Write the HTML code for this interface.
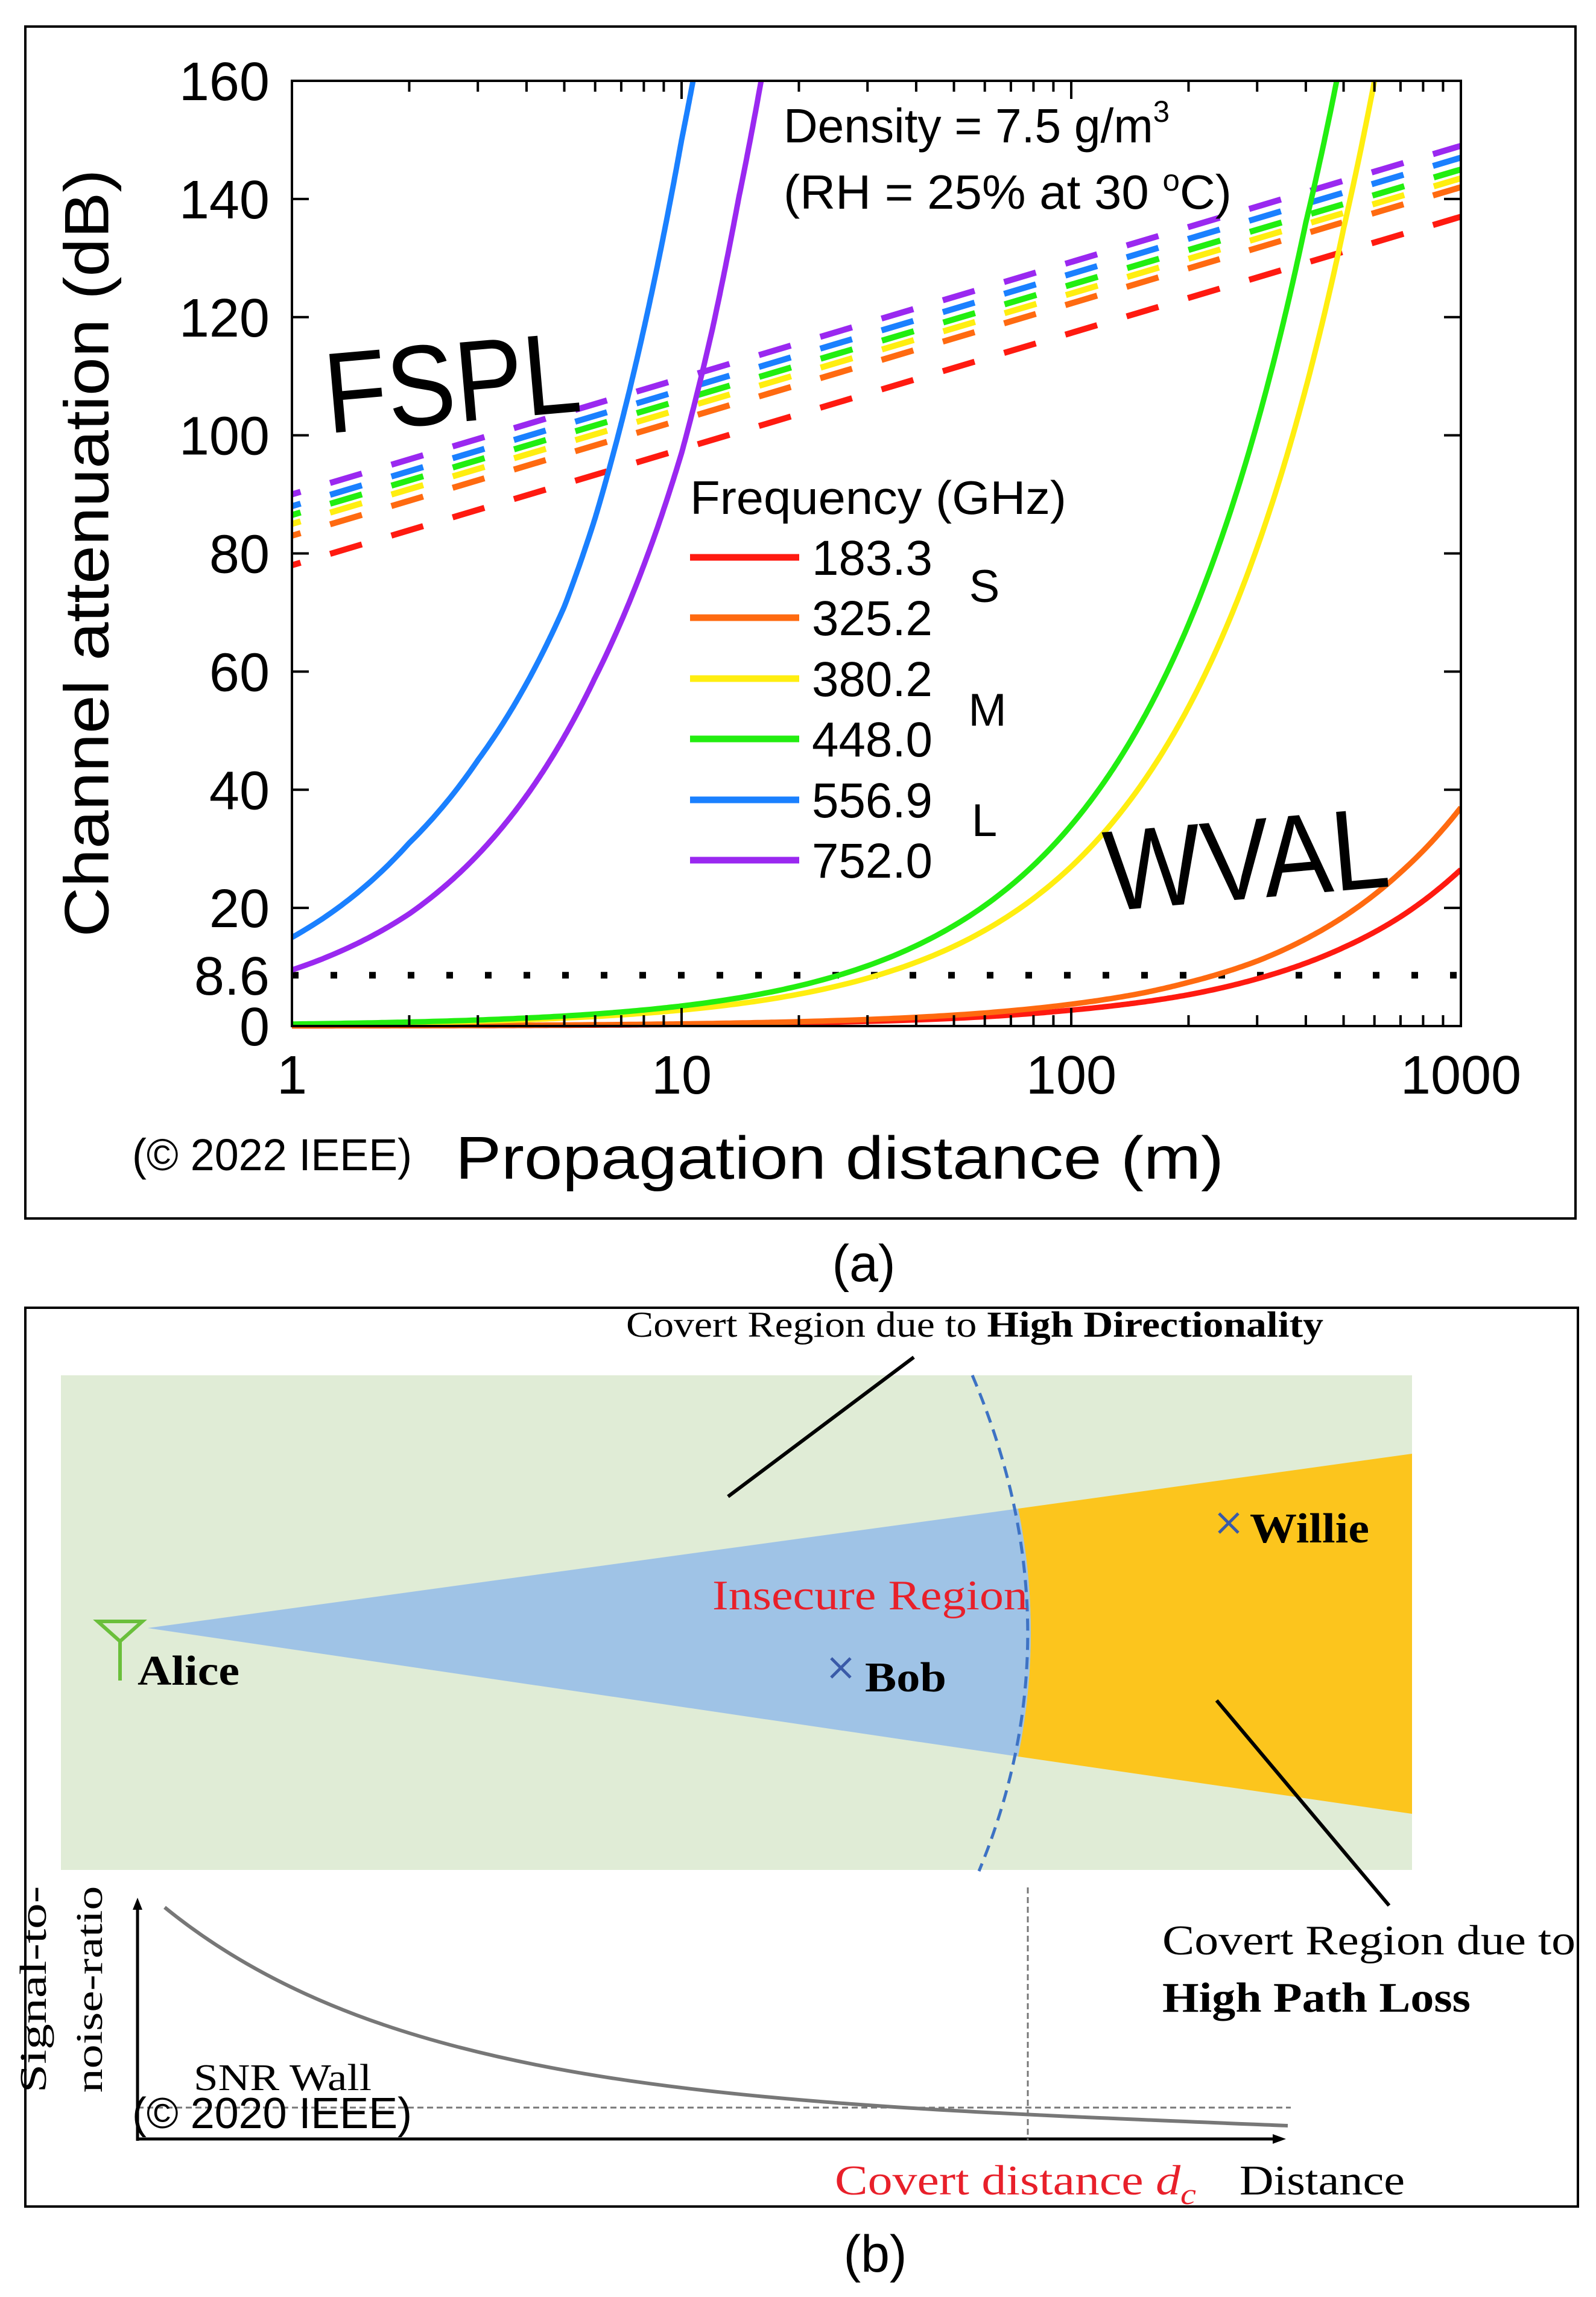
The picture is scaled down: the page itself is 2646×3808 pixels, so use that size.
<!DOCTYPE html>
<html><head><meta charset="utf-8"><style>
html,body{margin:0;padding:0;background:#fff}
svg{display:block}
.sans{font-family:"Liberation Sans",Arial,sans-serif}
.serif{font-family:"Liberation Serif","Times New Roman",serif}
</style></head><body>
<svg id="fig" width="2646" height="3808" viewBox="0 0 2646 3808" xmlns="http://www.w3.org/2000/svg">
<rect x="0" y="0" width="2646" height="3808" fill="#fff"/>
<!-- Panel a -->
<g id="panelA">
<rect x="42" y="44" width="2570" height="1976" fill="none" stroke="#000" stroke-width="4"/>
<g id="plotA"></g>
<text class="sans" x="152" y="917" font-size="104" text-anchor="middle" dominant-baseline="middle" transform="rotate(-90 152 917)" textLength="1273" lengthAdjust="spacingAndGlyphs">Channel attenuation (dB)</text>
<text class="sans" x="1392" y="1954" font-size="100" text-anchor="middle" textLength="1274" lengthAdjust="spacingAndGlyphs">Propagation distance (m)</text>
<text class="sans" x="219" y="1940" font-size="74" textLength="464" lengthAdjust="spacingAndGlyphs">(© 2022 IEEE)</text>
<text class="sans" x="1299" y="236" font-size="80" textLength="640" lengthAdjust="spacingAndGlyphs">Density = 7.5 g/m<tspan font-size="50" dy="-34">3</tspan></text>
<text class="sans" x="1299" y="346" font-size="80" textLength="743" lengthAdjust="spacingAndGlyphs">(RH = 25% at 30 <tspan font-size="50" dy="-30">o</tspan><tspan dy="30">C)</tspan></text>
<text class="sans" x="750" y="700" font-size="190" text-anchor="middle" transform="rotate(-5 750 640)" textLength="425" lengthAdjust="spacingAndGlyphs">FSPL</text>
<text class="sans" x="2067" y="1490" font-size="190" text-anchor="middle" transform="rotate(-5 2067 1430)" textLength="472" lengthAdjust="spacingAndGlyphs">WVAL</text>
<text class="sans" x="1144" y="852" font-size="78" textLength="624" lengthAdjust="spacingAndGlyphs">Frequency (GHz)</text>
<g id="legend"></g>
<text class="sans" x="1632" y="998" font-size="76" text-anchor="middle">S</text>
<text class="sans" x="1637" y="1203" font-size="76" text-anchor="middle">M</text>
<text class="sans" x="1632" y="1386" font-size="76" text-anchor="middle">L</text>
<text class="sans" x="1432" y="2124" font-size="86" text-anchor="middle">(a)</text>
</g>

<!-- Panel b -->
<g id="panelB">
<rect x="42" y="2168" width="2574" height="1490" fill="none" stroke="#000" stroke-width="4"/>
<rect x="101" y="2280" width="2240" height="820" fill="#e0ecd6"/>
<path d="M245 2699 L1688 2501 Q1730 2706 1688 2912 Z" fill="#9fc3e6"/>
<path d="M1688 2501 L2341 2410 L2341 3007 L1688 2912 Q1730 2706 1688 2501 Z" fill="#fcc51d"/>
<path d="M1612 2280 Q1790 2699 1623 3102" fill="none" stroke="#3d72c4" stroke-width="5" stroke-dasharray="20 12"/>
<text class="serif" x="1038" y="2216" font-size="60" textLength="1156" lengthAdjust="spacingAndGlyphs">Covert Region due to <tspan font-weight="bold">High Directionality</tspan></text>
<line x1="1515" y1="2250" x2="1207" y2="2481" stroke="#000" stroke-width="6"/>
<text class="serif" x="1181" y="2668" font-size="70" fill="#e8202a" textLength="523" lengthAdjust="spacingAndGlyphs">Insecure Region</text>
<g>
<path d="M162 2688 L236 2688 L199 2721 Z" fill="none" stroke="#6abf3b" stroke-width="6"/>
<line x1="199" y1="2721" x2="199" y2="2786" stroke="#6abf3b" stroke-width="6"/>
</g>
<text class="serif" x="228" y="2793" font-size="70" font-weight="bold" textLength="169" lengthAdjust="spacingAndGlyphs">Alice</text>
<g stroke="#3a5aa8" stroke-width="5">
<line x1="1378" y1="2749" x2="1410" y2="2781"/><line x1="1410" y1="2749" x2="1378" y2="2781"/>
</g>
<text class="serif" x="1434" y="2804" font-size="70" font-weight="bold" textLength="135" lengthAdjust="spacingAndGlyphs">Bob</text>
<g stroke="#3a5aa8" stroke-width="5">
<line x1="2021" y1="2509" x2="2053" y2="2541"/><line x1="2053" y1="2509" x2="2021" y2="2541"/>
</g>
<text class="serif" x="2072" y="2557" font-size="70" font-weight="bold" textLength="198" lengthAdjust="spacingAndGlyphs">Willie</text>
<line x1="2017" y1="2819" x2="2303" y2="3159" stroke="#000" stroke-width="6"/>
<text class="serif" x="1927" y="3240" font-size="70" textLength="685" lengthAdjust="spacingAndGlyphs">Covert Region due to</text>
<text class="serif" x="1927" y="3335" font-size="70" font-weight="bold" textLength="511" lengthAdjust="spacingAndGlyphs">High Path Loss</text>
<!-- SNR plot -->
<line x1="228" y1="3549" x2="228" y2="3160" stroke="#000" stroke-width="5"/>
<path d="M220 3166 L228 3146 L236 3166 Z" fill="#000"/>
<line x1="226" y1="3546" x2="2115" y2="3546" stroke="#000" stroke-width="5"/>
<path d="M2110 3538 L2132 3546 L2110 3554 Z" fill="#000"/>
<line x1="228" y1="3494" x2="2140" y2="3494" stroke="#777" stroke-width="3" stroke-dasharray="10 6"/>
<line x1="1704" y1="3129" x2="1704" y2="3549" stroke="#777" stroke-width="3" stroke-dasharray="10 6"/>
<path d="M273 3162 C650 3470 1250 3488 2135 3524" fill="none" stroke="#777" stroke-width="6"/>
<text class="serif" x="321" y="3465" font-size="62" textLength="295" lengthAdjust="spacingAndGlyphs">SNR Wall</text>
<text class="sans" x="219" y="3528" font-size="72" textLength="464" lengthAdjust="spacingAndGlyphs">(© 2020 IEEE)</text>
<text class="serif" x="96" y="3318" font-size="62" text-anchor="middle" transform="rotate(-90 76 3318)" textLength="343" lengthAdjust="spacingAndGlyphs">Signal-to-</text>
<text class="serif" x="189" y="3318" font-size="62" text-anchor="middle" transform="rotate(-90 169 3318)" textLength="343" lengthAdjust="spacingAndGlyphs">noise-ratio</text>
<text class="serif" x="1384" y="3638" font-size="70" fill="#e8202a" textLength="599" lengthAdjust="spacingAndGlyphs">Covert distance <tspan font-style="italic">d</tspan><tspan font-style="italic" font-size="50" dy="16">c</tspan></text>
<text class="serif" x="2055" y="3638" font-size="70" textLength="274" lengthAdjust="spacingAndGlyphs">Distance</text>
<text class="sans" x="1451" y="3766" font-size="86" text-anchor="middle">(b)</text>
</g>
</svg>
<script>
const freqLabels = ["183.3","325.2","380.2","448.0","556.9","752.0"];
const seriesColors = ["#ff1a10","#ff6a10","#ffee10","#22ee10","#1a80ff","#9a28f0"];
const fsplAt1 = [78, 83, 85, 86.5, 88, 90];
const fsplAt1000 = [137, 142, 143.5, 145, 147, 149];
const wvalDist = [
  [1,2,5,10,20,50,100,150,200,300,500,700,1000],
  [1,2,5,10,20,50,100,150,200,300,500,700,1000],
  [1,2,5,10,20,50,100,150,200,300,400,500,600],
  [1,2,5,10,20,50,100,150,200,300,400,480],
  [1,2,3,4,5,6,7,8,9,10,10.7],
  [1,2,3,4,5,6,8,10,12,14,16]
];
const wvalVals = [
  [0.03,0.05,0.13,0.27,0.53,1.3,2.7,4,5.3,8,13.3,18.5,26.5],
  [0.04,0.07,0.19,0.37,0.74,1.85,3.7,5.5,7.4,11,18.5,26,37],
  [0.27,0.54,1.35,2.7,5.4,13.5,27,40.5,54,81,108,135,160],
  [0.34,0.68,1.7,3.4,6.8,17,34,51,68,102,136,160],
  [15,31,45,58,71,86,102,118,134,150,160],
  [9.5,19,29,39,49,59,78,97,118,140,160]
];
const yTicks = [0,20,40,60,80,100,120,140,160];
const yTickLabels = ["0","20","40","60","80","100","120","140","160"];
const xTicks = [1,10,100,1000];
const xTickLabels = ["1","10","100","1000"];
const thresholdValue = 8.6;

const NS="http://www.w3.org/2000/svg";
const L=484,R=2422,T=134,B=1701;
function xs(d){return L+(Math.log10(d)-0)/3*(R-L);}
function ys(v){return B-v/160*(B-T);}
function mk(tag,attrs,parent){const e=document.createElementNS(NS,tag);for(const k in attrs)e.setAttribute(k,attrs[k]);parent.appendChild(e);return e;}
const g=document.getElementById('plotA');
const defs=mk('defs',{},g);
const cp=mk('clipPath',{id:'clipA'},defs);
mk('rect',{x:L,y:T,width:R-L,height:B-T+12},cp);

// threshold
const th=mk('line',{x1:L,x2:R,y1:ys(thresholdValue),y2:ys(thresholdValue),stroke:'#000','stroke-width':11,'stroke-dasharray':'11 53'},g);



// FSPL dashed
for(let i=0;i<6;i++){
  const ln=mk('line',{x1:xs(1),y1:ys(fsplAt1[i]),x2:xs(1000),y2:ys(fsplAt1000[i]),stroke:seriesColors[i],'stroke-width':10,'stroke-dasharray':'55 51','stroke-dashoffset':40},g);
  
  
}
// WVAL curves (linear interpolation in distance between read points, drawn densely)
for(let i=0;i<6;i++){
  const D=wvalDist[i],V=wvalVals[i];const pts=[];
  for(let j=0;j<D.length-1;j++){
    const n=30;
    for(let k=0;k<n;k++){const f=k/n;const d=D[j]+(D[j+1]-D[j])*f;const v=V[j]+(V[j+1]-V[j])*f;pts.push(xs(d).toFixed(1)+','+ys(v).toFixed(1));}
  }
  pts.push(xs(D[D.length-1]).toFixed(1)+','+ys(V[V.length-1]).toFixed(1));
  const pl=mk('polyline',{points:pts.join(' '),fill:'none',stroke:seriesColors[i],'stroke-width':9,'clip-path':'url(#clipA)','stroke-linejoin':'round'},g);
  
  
}
// frame
const fr=mk('rect',{x:L,y:T,width:R-L,height:B-T,fill:'none',stroke:'#000','stroke-width':4},g);


// y ticks
yTicks.forEach((v,i)=>{
  mk('line',{x1:L,x2:L+28,y1:ys(v),y2:ys(v),stroke:'#000','stroke-width':4},g);
  mk('line',{x1:R,x2:R-28,y1:ys(v),y2:ys(v),stroke:'#000','stroke-width':4},g);
  const t=mk('text',{x:447,y:ys(v)+32,'font-size':90,'text-anchor':'end',class:'sans'},g);
  t.textContent=yTickLabels[i];
  
  
});
const t86=mk('text',{x:447,y:ys(thresholdValue)+32,'font-size':90,'text-anchor':'end',class:'sans'},g);
t86.textContent='8.6';


// x ticks
for(let dec=0;dec<3;dec++){for(let m=1;m<10;m++){
  const d=Math.pow(10,dec)*m;const len=m===1?30:18;
  mk('line',{x1:xs(d),x2:xs(d),y1:B,y2:B-len,stroke:'#000','stroke-width':4},g);
  mk('line',{x1:xs(d),x2:xs(d),y1:T,y2:T+len,stroke:'#000','stroke-width':4},g);
}}
xTicks.forEach((d,i)=>{
  const t=mk('text',{x:xs(d),y:1813,'font-size':90,'text-anchor':'middle',class:'sans'},g);
  t.textContent=xTickLabels[i];
  
  
});
// legend
const lg=document.getElementById('legend');
const legY=[924,1024,1125,1225,1326,1426];
for(let i=0;i<6;i++){
  const ln=mk('line',{x1:1144,x2:1325,y1:legY[i],y2:legY[i],stroke:seriesColors[i],'stroke-width':11},lg);
  
  
  const t=mk('text',{x:1346,y:legY[i]+29,'font-size':82,class:'sans',textLength:200,lengthAdjust:'spacingAndGlyphs'},lg);
  t.textContent=freqLabels[i];
  
  
}
</script>
</body></html>
